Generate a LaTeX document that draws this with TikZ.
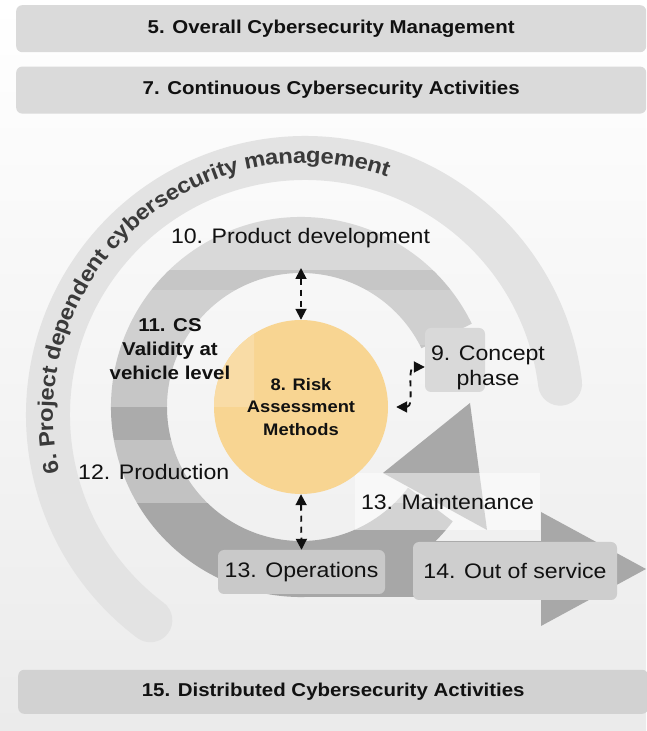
\documentclass[tikz,border=0pt]{standalone}
\usepackage{fontspec}
\setmainfont{Liberation Sans}[FakeStretch=1.1]
\usetikzlibrary{positioning, arrows.meta, calc, decorations.text}
\definecolor{barbg}{HTML}{DADADA}
\definecolor{barbgB}{HTML}{D2D2D2}
\definecolor{arcbg}{HTML}{E3E3E3}
\definecolor{arcink}{HTML}{3A3A3A}
\definecolor{riskbg}{HTML}{F8D592}
\definecolor{riskhi}{HTML}{F9DCA6}
\definecolor{boxbg}{HTML}{C9C9C9}
\definecolor{conbg}{HTML}{D9D9D9}
\definecolor{headbg}{HTML}{A8A8A8}
\definecolor{ink}{HTML}{111111}
\definecolor{stA}{HTML}{D9D9D9}
\definecolor{stB}{HTML}{C6C6C6}
\definecolor{stC}{HTML}{D0D0D0}
\definecolor{stD}{HTML}{C6C6C6}
\definecolor{stE}{HTML}{ABABAB}
\definecolor{stF}{HTML}{C2C2C2}
\definecolor{stG}{HTML}{A7A7A7}
\newcommand{\fsz}[2]{\fontsize{#1}{#2}\selectfont}
\tikzset{
  bar/.style={rounded corners=6pt, fill=barbg, minimum width=630pt,
              minimum height=47pt, inner sep=0pt, text=ink,
              font=\fsz{18.6}{20}\bfseries},
  lbl/.style={font=\fsz{21}{25}, text=ink, align=center, inner sep=0pt},
  lblB/.style={font=\fsz{18.6}{24}\bfseries, text=ink, align=center, inner sep=0pt},
  phasebox/.style={rounded corners=6pt, fill=boxbg, inner sep=0pt,
                   font=\fsz{21}{25}, text=ink},
  dbl/.style={{Triangle[length=11pt,width=11pt]}-{Triangle[length=11pt,width=11pt]},
              line width=1.8pt, dash pattern=on 6pt off 5pt, draw=ink},
}

\begin{document}
\begin{tikzpicture}[x=1pt, y=1pt]
  \useasboundingbox (0,0) rectangle (646,731);
  \fill[top color=white, bottom color={rgb,255:red,235;green,235;blue,235}]
       (0,0) rectangle (646,731);
  % bars
  \node[bar, anchor=north west] (b5) at (16,726) {5. Overall Cybersecurity Management};
  \node[bar, below=14pt of b5] (b7) {7. Continuous Cybersecurity Activities};
  \node[bar, fill=barbgB, minimum height=44pt, anchor=south west] (b15) at (18,17)
        {15. Distributed Cybersecurity Activities};
  % project dependent arc
  \coordinate (pc) at (305,316);
  \draw[arcbg, line width=44pt, line cap=round]
       ([shift={(233:257pt)}]pc) arc[start angle=233, end angle=7, radius=257pt];
  \path[decorate, decoration={text along path, text align=center, raise=-5pt,
        text color=arcink,
        text={|\fsz{21.6}{24}\bfseries|6. Project dependent cybersecurity management}}]
       ([shift={(203:257pt)}]pc) arc[start angle=203, end angle=61, radius=257pt];
  % lifecycle band
  \coordinate (lc) at (301,324);
  \begin{scope}
    \clip ([shift={(26:190pt)}]lc) arc[start angle=26, end angle=323, radius=190pt]
          -- ([shift={(323:134pt)}]lc) arc[start angle=323, end angle=26, radius=134pt]
          -- cycle;
    \foreach \ya/\yb/\col in {461/530/stA, 441/461/stB, 386/441/stC, 324/386/stD,
                              291/324/stE, 228/291/stF, 120/228/stG}
      \fill[\col] (100,\ya) rectangle (520,\yb);
  \end{scope}
  \fill[stG] (301,134) rectangle (545,190);
  \fill[headbg] (541,105) -- (646,162) -- (541,219) -- cycle;
  \fill[headbg] (383,258) -- (470,328) -- (487,201) -- cycle;
  \node[lbl, fill=white, fill opacity=0.5, text opacity=1,
        minimum width=185pt, minimum height=57pt] (mnt) at (447.5,229.5) {13. Maintenance};
  \node[phasebox, fill=conbg, minimum width=60pt, minimum height=64pt] (cbox) at (455,371) {};
  \node[lbl] (cpt) at (488,363) {9. Concept\\phase};
  % centre
  \node[circle, fill=riskbg, minimum size=174pt, inner sep=0pt] (risk) at (lc) {};
  \begin{scope}
    \clip (lc) circle[radius=87pt];
    \fill[riskhi, rounded corners=4pt] (205,324) rectangle (254,420);
  \end{scope}
  \node[align=center, text=ink, font=\fsz{16.7}{22.5}\bfseries] (risklbl) at (risk.center)
        {8. Risk\\Assessment\\Methods};
  \node[phasebox, minimum width=167pt, minimum height=44pt] (ops) at (301.5,159) {13. Operations};
  \node[phasebox, fill=boxbg!90!white, minimum width=204pt, minimum height=58pt]
        (oos) at (515,160) {14. Out of service};
  \node[lbl] (pd) at (300.5,493) {10. Product development};
  \node[lblB] (val) at (170,382) {11. CS\\Validity at\\vehicle level};
  \node[lbl, anchor=west] (prod) at (78,259) {12. Production};
  % links to risk assessment
  \coordinate (pdtop) at (301,463);
  \draw[dbl] (pdtop) -- (risk.north);
  \draw[dbl] (risk.south) -- (ops.north);
  \draw[dbl] ([xshift=8pt]risk.east) to[out=0, in=180] ([yshift=-7pt]cbox.west);
\end{tikzpicture}
\end{document}
